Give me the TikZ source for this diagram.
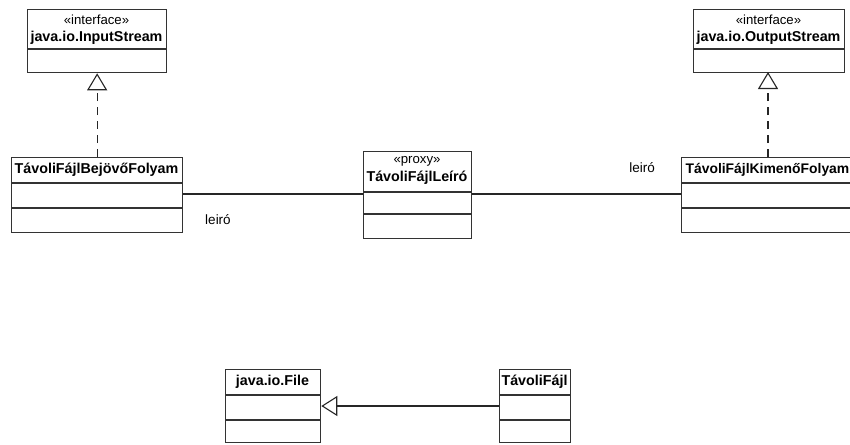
\documentclass[tikz,border=0pt]{standalone}
\usepackage{fontspec}
\setmainfont{Liberation Sans}
\usetikzlibrary{arrows.meta,calc}
\tikzset{
  cls/.style={draw=black!80, line width=1.3pt, fill=white, inner sep=0pt, anchor=north west},
  divider/.style={draw=black!80, line width=1.3pt},
  cname/.style={font=\fontsize{14.3}{15}\selectfont\bfseries, inner sep=0pt},
  stereo/.style={font=\fontsize{13.2}{14}\selectfont, inner sep=0pt},
  rolelbl/.style={font=\fontsize{13.5}{14}\selectfont, inner sep=0pt},
  assoc/.style={draw=black!85, line width=1.1pt},
  realize/.style={draw=black!85, line width=1.1pt, dash pattern=on 8pt off 6pt,
    -{Triangle[open, width=20pt, length=17pt, line width=1.1pt]}},
  inherit/.style={draw=black!85, line width=1.1pt,
    -{Triangle[open, width=20pt, length=16pt, line width=1.1pt]}},
}
\begin{document}
\begin{tikzpicture}[x=1pt, y=-1pt]
\useasboundingbox (0,0) rectangle (850,444);
\clip (0,0) rectangle (850,444);

% java.io.InputStream
\node[cls, minimum width=139pt, minimum height=63pt] (ins) at (27,9) {};
\draw[divider] (27,49) -- (166,49);
\node[stereo] (insS) at (96.5,20) {«interface»};
\node[cname] (insN) at (96.5,38) {java.io.InputStream};

% java.io.OutputStream
\node[cls, minimum width=151pt, minimum height=63pt] (outs) at (693,9) {};
\draw[divider] (693,49) -- (844,49);
\node[stereo] (outsS) at (768.5,20) {«interface»};
\node[cname] (outsN) at (768.5,38) {java.io.OutputStream};

% TávoliFájlBejövőFolyam
\node[cls, minimum width=171pt, minimum height=75pt] (bej) at (11,157) {};
\draw[divider] (11,183) -- (182,183);
\draw[divider] (11,208) -- (182,208);
\node[cname] (bejN) at (96.5,170) {TávoliFájlBejövőFolyam};

% TávoliFájlLeíró (proxy)
\node[cls, minimum width=108pt, minimum height=87pt] (prx) at (363,151) {};
\draw[divider] (363,192) -- (471,192);
\draw[divider] (363,214) -- (471,214);
\node[stereo] (prxS) at (417,161) {«proxy»};
\node[cname] (prxN) at (417,178) {TávoliFájlLeíró};

% TávoliFájlKimenőFolyam (runs past the right edge)
\node[cls, minimum width=174pt, minimum height=75pt] (kim) at (681,157) {};
\draw[divider] (681,183) -- (855,183);
\draw[divider] (681,208) -- (855,208);
\node[cname, font=\fontsize{13.9}{15}\selectfont\bfseries, anchor=east] (kimN) at (849.5,170) {TávoliFájlKimenőFolyam};

% java.io.File
\node[cls, minimum width=95pt, minimum height=73pt] (file) at (225,369) {};
\draw[divider] (225,395) -- (320,395);
\draw[divider] (225,420) -- (320,420);
\node[cname] (fileN) at (272.5,382) {java.io.File};

% TávoliFájl
\node[cls, minimum width=71pt, minimum height=73pt] (tf) at (499,369) {};
\draw[divider] (499,395) -- (570,395);
\draw[divider] (499,420) -- (570,420);
\node[cname] (tfN) at (534.5,382) {TávoliFájl};

% realizations
\draw[realize] (bej.north) -- (ins.south);
\coordinate (kimTop) at (768,157);
\coordinate (outsBot) at (768,72);
\draw[realize] (kimTop) -- (outsBot);

% associations
\draw[assoc] (bej.east |- 0,194) -- (prx.west |- 0,194);
\draw[assoc] (prx.east |- 0,194) -- (kim.west |- 0,194);
\node[rolelbl] (r1) at (218,220) {leiró};
\node[rolelbl] (r2) at (642,168) {leiró};

% generalization
\draw[inherit] (tf.west |- 0,406) -- (file.east |- 0,406);
\end{tikzpicture}
\end{document}
